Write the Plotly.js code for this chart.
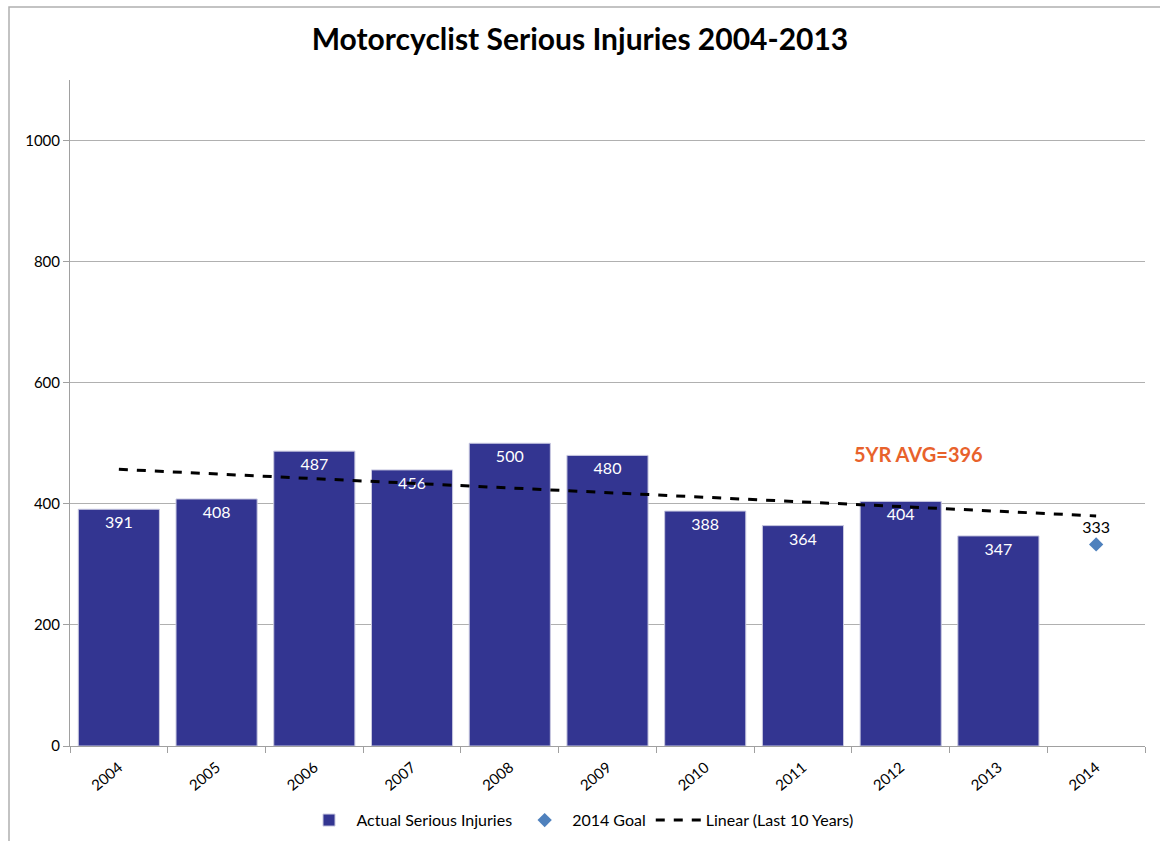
<!DOCTYPE html>
<html>
<head>
<meta charset="utf-8">
<script src="https://cdn.plot.ly/plotly-3.0.1.min.js"></script>
<style>html,body{margin:0;padding:0;background:#fff;}#chart{width:1160px;height:841px;}</style>
</head>
<body>
<div id="chart"></div>
<script>
const years = ['2004','2005','2006','2007','2008','2009','2010','2011','2012','2013','2014'];
const barYears = ['2004','2005','2006','2007','2008','2009','2010','2011','2012','2013'];
const injuries = [391, 408, 487, 456, 500, 480, 388, 364, 404, 347];
const goalYear = ['2014'];
const goalValue = [333];
const trendYears = ['2004','2014'];
const trendValues = [457, 380];
const avgLabel = '5YR AVG=396';

const FONT = 'Lato, "Open Sans", sans-serif';

const traces = [
  {
    type: 'bar', name: 'Actual Serious Injuries',
    x: barYears, y: injuries,
    text: injuries.map(String), textposition: 'inside', insidetextanchor: 'end',
    textfont: {color: '#ffffff', size: 16, family: FONT},
    marker: {color: '#333591', line: {color: '#c8c8e0', width: 1}},
    hoverinfo: 'x+y'
  },
  {
    type: 'scatter', mode: 'markers+text', name: '2014 Goal',
    x: goalYear, y: goalValue,
    text: goalValue.map(String), textposition: 'top center',
    textfont: {color: '#000000', size: 16, family: FONT},
    marker: {symbol: 'diamond', size: 11, color: '#4F81BD'}
  },
  {
    type: 'scatter', mode: 'lines', name: 'Linear (Last 10 Years)',
    x: trendYears, y: trendValues,
    line: {color: '#000000', width: 3, dash: 'dash'}
  }
];

const layout = {
  width: 1160, height: 841,
  margin: {l: 70, r: 15, t: 80, b: 95},
  paper_bgcolor: '#ffffff', plot_bgcolor: '#ffffff',
  font: {family: FONT, size: 15, color: '#000'},
  title: {text: '<b>Motorcyclist Serious Injuries 2004-2013</b>', font: {size: 30, family: FONT, color: '#000'}, x: 0.5, xanchor: 'center', y: 0.953, yanchor: 'middle'},
  bargap: 0.17,
  showlegend: true,
  legend: {orientation: 'h', x: 0.5, xanchor: 'center', xref: 'container', yref: 'container', y: 0.045, yanchor: 'top', font: {size: 16, family: FONT}, traceorder: 'normal', itemwidth: 45},
  xaxis: {
    type: 'category', categoryorder: 'array', categoryarray: years,
    range: [-0.5, 10.5], automargin: false,
    tickangle: -40, tickfont: {size: 15, family: FONT}, ticklabelstandoff: 6,
    showline: true, linecolor: '#a0a0a0', linewidth: 1,
    ticks: 'outside', tickson: 'boundaries', ticklen: 6, tickcolor: '#a0a0a0',
    showgrid: false, zeroline: false
  },
  yaxis: {
    range: [0, 1100], tickvals: [0, 200, 400, 600, 800, 1000], automargin: false,
    tickfont: {size: 15, family: FONT},
    showline: true, linecolor: '#a0a0a0', linewidth: 1,
    ticks: 'outside', ticklen: 6, tickcolor: '#a0a0a0',
    showgrid: true, gridcolor: '#b0b0b0', gridwidth: 1, zeroline: false
  },
  annotations: [
    {text: '<b>' + avgLabel + '</b>', x: 8.18, y: 483, xref: 'x', yref: 'y', showarrow: false,
     font: {size: 20, color: '#E8622C', family: FONT}}
  ],
  shapes: [
    {type: 'rect', xref: 'paper', yref: 'paper', x0: (9 - 70) / 1075, x1: 1.2, y0: -0.3, y1: (746 - 7) / 666,
     line: {color: '#b0b0b0', width: 1.5}, fillcolor: 'rgba(0,0,0,0)', layer: 'below'}
  ]
};

Plotly.newPlot('chart', traces, layout, {displayModeBar: false});
</script>
</body>
</html>
